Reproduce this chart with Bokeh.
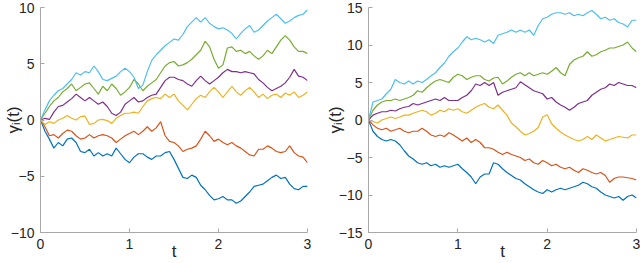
import numpy as np
from bokeh.plotting import figure
from bokeh.layouts import row
from bokeh.models import Range1d, FixedTicker
from bokeh.embed import file_html
from bokeh.resources import INLINE

# sample times
t = np.linspace(0, 3, 61)

# ---- left panel ----
left_blue = [0, -1.0, -1.7, -2.5, -2.0, -2.3, -1.7, -1.6, -2.0, -2.8, -2.9,
             -2.6, -3.2, -2.9, -3.2, -3.0, -3.2, -2.5, -3.0, -3.5, -3.8,
             -3.3, -3.0, -3.0, -3.3, -3.5, -3.2, -3.2, -2.9, -2.8, -3.5,
             -4.3, -5.1, -5.2, -4.9, -5.1, -5.8, -6.2, -6.7, -7.1, -7.0,
             -6.8, -7.1, -7.1, -7.4, -7.2, -6.8, -6.4, -5.9, -5.8, -5.7,
             -5.4, -5.1, -4.9, -5.2, -5.1, -5.7, -6.1, -6.2, -5.9, -5.9]
left_red = [0, -0.6, -1.4, -1.3, -1.6, -1.2, -0.9, -1.0, -1.4, -1.7, -1.6,
            -1.3, -1.6, -1.4, -1.3, -1.4, -1.6, -2.0, -1.7, -1.4, -1.2,
            -1.0, -1.3, -1.0, -0.6, -1.0, -0.7, -0.15, -1.4, -1.9, -2.0,
            -2.3, -2.8, -2.6, -2.5, -2.3, -1.7, -1.0, -1.4, -1.9, -1.7,
            -2.0, -2.2, -2.0, -2.3, -2.5, -2.8, -3.1, -3.2, -2.6, -2.6,
            -2.3, -2.5, -2.8, -2.9, -2.8, -2.3, -2.9, -3.2, -3.3, -3.8]
left_yellow = [0, -0.4, -0.15, -0.3, 0.0, 0.15, 0.4, 0.15, 0.0, 0.3, 0.35,
               -0.4, -0.3, 0.0, 0.05, -0.05, -0.3, 0.15, 0.4, 0.6, 0.6,
               0.7, 0.6, 1.2, 1.7, 1.9, 2.0, 1.9, 2.3, 2.0, 2.3,
               1.7, 1.3, 0.9, 1.4, 1.9, 2.2, 2.0, 2.5, 2.9, 2.5,
               2.0, 2.5, 3.0, 2.5, 2.2, 2.6, 2.9, 2.5, 2.0, 2.3,
               1.9, 2.2, 2.3, 2.0, 2.4, 2.2, 2.5, 2.0, 2.2, 2.5]
left_purple = [0, 0.15, 0.05, 0.7, 1.2, 1.3, 1.6, 1.9, 2.3, 2.0, 1.7,
               2.0, 1.7, 1.4, 1.6, 1.2, 0.6, 0.4, 0.7, 1.4, 1.7,
               2.0, 1.6, 1.7, 2.0, 2.2, 2.3, 2.9, 3.5, 3.8, 3.8,
               3.6, 3.5, 3.2, 3.0, 3.5, 3.9, 3.5, 3.2, 3.5, 3.8,
               4.2, 4.5, 4.3, 4.3, 4.2, 4.3, 4.2, 4.1, 3.6, 3.3,
               2.9, 2.6, 2.8, 3.0, 3.3, 3.8, 4.5, 3.9, 3.8, 3.5]
left_green = [0, 0.6, 1.2, 1.7, 2.0, 2.5, 2.8, 3.2, 2.6, 2.9, 3.2,
              3.3, 2.8, 2.3, 3.0, 2.6, 3.2, 2.8, 2.2, 2.5, 2.9,
              3.6, 3.2, 2.6, 3.0, 3.3, 3.6, 4.2, 4.8, 5.1, 5.2,
              4.8, 4.9, 5.1, 5.4, 5.8, 6.2, 7.0, 6.5, 5.4, 4.6,
              4.9, 6.4, 6.5, 6.1, 6.2, 5.9, 6.1, 5.7, 5.4, 5.7,
              6.2, 5.9, 6.5, 7.1, 7.5, 7.1, 6.5, 6.1, 6.1, 5.9]
left_lightblue = [0, 0.9, 1.7, 2.2, 2.6, 2.8, 3.2, 3.6, 4.2, 4.0, 4.3,
                  4.2, 4.8, 4.3, 3.6, 3.5, 3.7, 3.9, 4.3, 4.6, 4.3,
                  3.8, 2.8, 3.1, 4.3, 5.3, 5.8, 6.2, 6.6, 6.9, 7.2,
                  7.1, 7.6, 8.3, 8.7, 9.1, 8.7, 9.1, 8.6, 8.3, 8.1,
                  8.2, 8.0, 7.7, 7.2, 7.7, 8.1, 8.4, 7.8, 8.0, 8.4,
                  8.8, 9.1, 9.4, 9.0, 8.6, 8.8, 9.1, 9.3, 9.4, 9.8]

# ---- right panel ----
right_blue = [0, -1.5, -2.2, -2.6, -2.8, -2.6, -2.8, -3.3, -4.1, -4.8, -5.2,
              -5.7, -5.9, -5.7, -6.1, -5.9, -6.3, -6.1, -6.3, -6.1, -5.9,
              -6.5, -7.0, -7.6, -8.5, -7.6, -7.2, -7.2, -5.7, -5.9, -6.5,
              -7.0, -7.4, -7.8, -8.0, -8.5, -8.9, -9.3, -9.6, -9.8, -9.3,
              -9.6, -9.3, -9.1, -9.3, -9.1, -8.9, -8.7, -8.3, -8.5, -8.9,
              -9.1, -9.6, -10.0, -10.2, -10.4, -10.2, -10.7, -10.2, -10.0, -10.4]
right_red = [0, -0.65, -1.1, -1.3, -1.1, -1.5, -1.3, -1.1, -1.5, -1.7, -1.5,
             -1.5, -1.1, -1.5, -2.0, -2.2, -2.0, -2.2, -1.7, -2.0, -2.4,
             -2.8, -2.4, -3.0, -2.6, -3.0, -3.7, -3.7, -3.9, -4.3, -4.6,
             -4.3, -4.6, -4.8, -5.0, -5.4, -5.2, -5.7, -5.9, -5.4, -5.7,
             -6.1, -5.9, -6.3, -6.5, -6.3, -6.7, -7.0, -6.5, -6.7, -7.0,
             -7.2, -7.0, -7.4, -8.3, -7.8, -7.6, -7.6, -7.7, -7.8, -8.0]
right_yellow = [0, -0.2, -0.4, 0.0, 0.2, 0.4, 0.2, 0.4, 0.65, 0.65, 0.9,
                1.1, 1.3, 1.1, 0.65, 0.9, 1.3, 1.1, 1.5, 1.3, 1.5,
                1.1, 0.9, 1.3, 1.7, 2.0, 2.2, 1.7, 1.5, 2.0, 1.3,
                0.65, -0.4, -0.9, -1.5, -2.0, -1.8, -1.5, -1.0, 0.4, 0.7,
                -0.5, -1.1, -1.6, -2.0, -2.3, -2.6, -2.8, -2.6, -2.2, -2.6,
                -2.0, -2.4, -2.8, -2.6, -2.4, -2.2, -2.3, -2.4, -2.0, -2.0]
right_purple = [0, 0.65, 0.9, 1.1, 1.1, 1.3, 1.2, 1.5, 1.7, 1.8, 2.2,
                2.0, 2.2, 2.4, 2.6, 2.8, 2.6, 3.0, 2.6, 2.6, 2.6,
                3.0, 3.3, 3.9, 4.8, 4.6, 5.0, 4.6, 5.0, 3.3, 3.7,
                3.9, 4.1, 4.3, 5.1, 4.7, 4.3, 3.9, 3.7, 3.5, 2.8,
                3.0, 2.4, 2.0, 1.7, 1.3, 1.7, 2.2, 2.4, 2.6, 3.3,
                3.7, 4.1, 4.3, 4.8, 4.6, 5.0, 4.8, 4.6, 4.6, 4.3]
right_green = [0, 1.3, 2.0, 2.4, 2.6, 2.6, 2.8, 2.6, 2.8, 3.0, 3.3,
               3.9, 3.7, 4.3, 4.8, 5.2, 5.4, 5.2, 5.0, 5.7, 6.1,
               5.9, 5.4, 5.7, 5.9, 5.9, 5.4, 5.2, 5.6, 5.7, 4.8,
               5.2, 5.7, 6.1, 6.3, 5.9, 6.3, 5.9, 6.1, 6.3, 6.1,
               6.5, 7.0, 6.3, 5.9, 7.4, 8.0, 8.3, 8.5, 9.1, 8.5,
               8.7, 9.1, 9.3, 9.6, 9.6, 9.8, 10.0, 10.4, 9.6, 9.1]
right_lightblue = [0, 2.4, 2.6, 2.8, 3.5, 4.1, 5.4, 5.0, 4.8, 5.2, 4.8,
                   5.2, 5.0, 5.4, 5.9, 6.3, 7.0, 7.6, 8.5, 9.1, 9.6,
                   10.4, 11.1, 10.7, 10.9, 10.7, 10.4, 10.7, 10.2, 11.3, 11.5,
                   11.7, 12.0, 11.7, 12.0, 11.7, 12.0, 11.3, 12.6, 13.5, 13.7,
                   14.1, 14.3, 14.3, 14.1, 14.3, 13.9, 14.1, 13.9, 14.3, 14.6,
                   14.1, 13.5, 13.7, 13.3, 13.5, 13.0, 12.8, 12.4, 13.3, 13.3]

x_ticks = [0, 1, 2, 3]
left_y_ticks = [-10, -5, 0, 5, 10]
right_y_ticks = [-15, -10, -5, 0, 5, 10, 15]

colors = ["#0072BD", "#D95319", "#EDB120", "#7E2F8E", "#77AC30", "#4DBEEE"]

FONT = "Liberation Sans"
TXT = "#262626"
AXC = "#a8a8a8"


def make_panel(series, yr, yticks, width, mleft, mright, ylab_standoff):
    p = figure(width=width, height=263, x_range=Range1d(0, 3),
               y_range=Range1d(yr[0], yr[1]), output_backend="svg",
               toolbar_location=None, min_border_left=mleft,
               min_border_right=mright, min_border_top=7,
               min_border_bottom=30)
    p.outline_line_color = None
    p.grid.visible = False
    for vals, c in zip(series, colors):
        p.line(t, vals, line_color=c, line_width=1.2)
    for ax in (p.xaxis[0], p.yaxis[0]):
        ax.axis_line_color = AXC
        ax.major_tick_line_color = AXC
        ax.major_tick_in = 4
        ax.major_tick_out = 0
        ax.minor_tick_line_color = None
        ax.major_label_text_font = FONT
        ax.major_label_text_font_size = "14px"
        ax.major_label_text_color = TXT
        ax.axis_label_text_font = FONT
        ax.axis_label_text_font_style = "normal"
        ax.axis_label_text_color = TXT
        ax.axis_label_text_font_size = "17px"
    p.xaxis[0].ticker = FixedTicker(ticks=x_ticks)
    p.yaxis[0].ticker = FixedTicker(ticks=yticks)
    p.xaxis[0].axis_label = "t"
    p.xaxis[0].major_label_standoff = 6
    p.xaxis[0].axis_label_standoff = -10
    p.yaxis[0].axis_label = "γᵢ(t)"
    p.yaxis[0].major_label_standoff = 6
    p.yaxis[0].axis_label_standoff = ylab_standoff
    return p


p1 = make_panel([left_blue, left_red, left_yellow, left_purple, left_green, left_lightblue],
                (-10, 10), left_y_ticks, 320, 40, 13, -15)
p2 = make_panel([right_blue, right_red, right_yellow, right_purple, right_green, right_lightblue],
                (-15, 15), right_y_ticks, 320, 48, 4, -9)

layout = row(p1, p2)
open("out.html", "w").write(file_html(layout, INLINE))
